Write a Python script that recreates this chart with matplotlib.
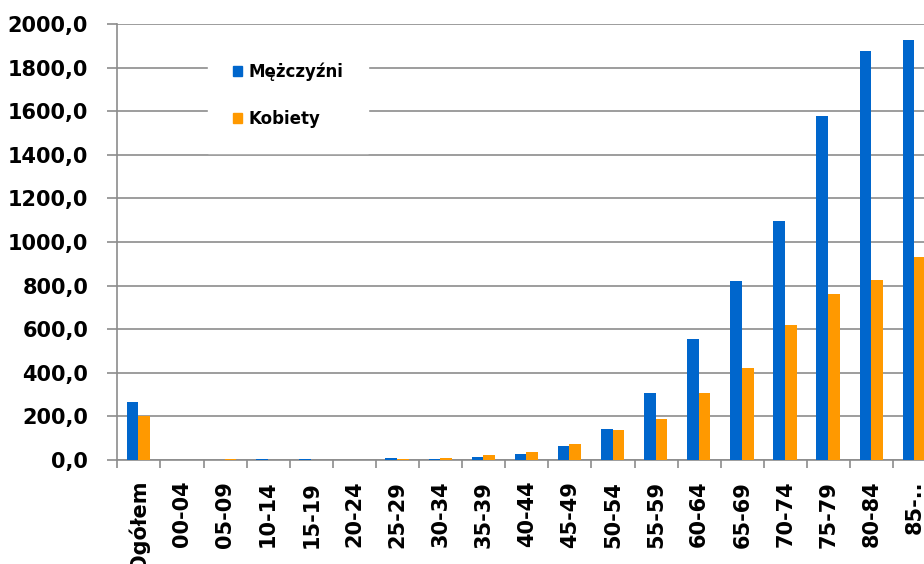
import matplotlib
matplotlib.use("Agg")
import matplotlib.pyplot as plt
import numpy as np
from matplotlib.patches import Patch
from matplotlib.ticker import FixedLocator, FuncFormatter

categories = ["Ogółem", "00-04", "05-09", "10-14", "15-19", "20-24", "25-29",
              "30-34", "35-39", "40-44", "45-49", "50-54", "55-59", "60-64",
              "65-69", "70-74", "75-79", "80-84", "85-.."]
men = [268, 0.5, 0.5, 5, 5, 0.5, 11, 5, 15, 29, 63, 144, 308, 553, 820, 1096, 1578, 1878, 1926]
women = [201, 0.3, 5, 1, 1, 0.3, 5, 11, 24, 38, 73, 136, 187, 308, 420, 617, 760, 826, 930]
series_names = ["Mężczyźni", "Kobiety"]

BLUE = "#0066CC"
ORANGE = "#FF9900"
GRID = "#8c8c8c"

plt.rcParams['font.family'] = ['DejaVu Sans']

fig = plt.figure(figsize=(9.24, 5.64), dpi=100)
ax = fig.add_axes([117.3 / 924, 104 / 564, 819 / 924, 436 / 564])

x = np.arange(len(categories))
w = 0.27
ax.bar(x - w / 2 - 0.01, men, width=w, color=BLUE, zorder=3)
ax.bar(x + w / 2 - 0.01, women, width=w, color=ORANGE, zorder=3)

ax.set_xlim(-0.5, len(categories) - 0.5)
ax.set_ylim(0, 2000)
ax.set_yticks(np.arange(0, 2001, 200))
ax.yaxis.set_major_formatter(FuncFormatter(lambda v, p: f"{v:.1f}".replace('.', ',')))
ax.yaxis.grid(True, color=GRID, linewidth=1.2, zorder=0)
ax.set_axisbelow(True)

ax.set_xticks(x)
ax.set_xticklabels(categories, rotation=90, fontsize=15, fontweight='bold')
ax.xaxis.set_minor_locator(FixedLocator(np.arange(-0.5, len(categories), 1.0)))
ax.tick_params(axis='x', which='major', length=0, pad=15)
ax.tick_params(axis='x', which='minor', length=6, color=GRID, width=1.2)
ax.tick_params(axis='y', which='major', length=7, color=GRID, width=1.2, pad=14,
               labelsize=15)
for lab in ax.get_yticklabels():
    lab.set_fontweight('bold')

for s in ['top', 'right']:
    ax.spines[s].set_visible(False)
for s in ['left', 'bottom']:
    ax.spines[s].set_color(GRID)
    ax.spines[s].set_linewidth(1.2)

handles = [Patch(facecolor=BLUE, edgecolor=BLUE), Patch(facecolor=ORANGE, edgecolor=ORANGE)]
leg = fig.legend(handles, series_names, loc='center',
                 bbox_to_anchor=(288 / 924, 1 - 95 / 564),
                 prop={'weight': 'bold', 'size': 12},
                 handlelength=0.55, handleheight=0.55, handletextpad=0.4,
                 labelspacing=1.75, borderpad=1.5, frameon=True,
                 facecolor='white', edgecolor='white', framealpha=1, fancybox=False)

fig.savefig("out.png", dpi=100)
